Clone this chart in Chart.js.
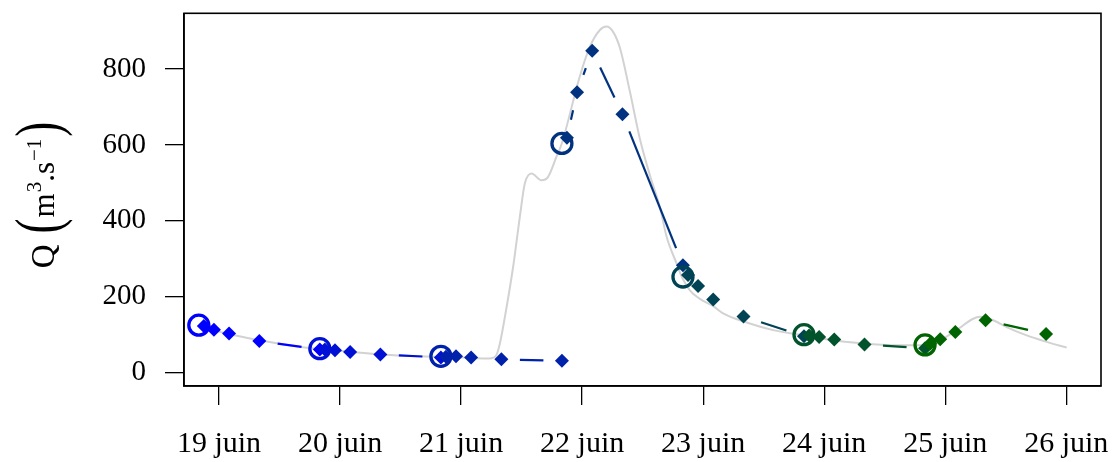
<!DOCTYPE html>
<html>
<head>
<meta charset="utf-8">
<script src="https://cdn.jsdelivr.net/npm/chart.js@4.4.1/dist/chart.umd.min.js"></script>
<style>
  html, body { margin: 0; padding: 0; background: #fff; }
  #wrap { width: 1117px; height: 462px; }
</style>
</head>
<body>
<div id="wrap"><canvas id="debitChart" width="1117" height="462"></canvas></div>
<script>
// débit observé (jour de juin, m3/s)
const obsT = [18.833, 18.95, 19.083, 19.336, 19.58, 19.818, 20.08, 20.328, 20.58, 20.838,
    21.08, 21.21, 21.25, 21.29, 21.32, 21.362, 21.43, 21.485, 21.526, 21.582, 21.664,
    21.719, 21.788, 21.832, 21.98, 22.064, 22.147, 22.202, 22.256, 22.312, 22.395,
    22.478, 22.56, 22.643, 22.698, 22.78, 22.824, 22.89, 22.97, 23.083, 23.165, 23.359,
    23.578, 23.826, 24.074, 24.185, 24.35, 24.516, 24.736, 24.832, 24.956, 25.094,
    25.231, 25.287, 25.397, 25.507, 25.673, 25.838, 26.003];
const obsQ = [123, 112, 102, 85, 72, 62, 55, 48, 44, 41,
    39, 37, 38, 45, 76, 147, 279, 410, 498, 525, 507,
    516, 569, 604, 780, 859, 903, 912, 898, 856, 740,
    615, 520, 435, 358, 288, 252, 217, 195, 175, 156, 132,
    112, 98, 85, 81, 76, 73, 72, 73, 85, 112,
    142, 147, 138, 120, 98, 81, 66];

// prévisions émises chaque jour à 20h
const issueDays = [18.833, 19.833, 20.833, 21.833, 22.833, 23.833, 24.833];
const leadHours = [0, 1, 3, 6, 12, 24];
const prev1 = [125, 123, 113, 103, 83, 61];
const prev2 = [63, 61, 59, 54, 48, 40];
const prev3 = [43, 42, 43, 40, 35, 31];
const prev4 = [604, 619, 739, 848, 681, 283];
const prev5 = [252, 257, 228, 193, 148, 96];
const prev6 = [100, 98, 94, 87, 74, 64];
const prev7 = [73, 76, 88, 107, 138, 102];
const prevColors = ["rgb(0,0,255)", "rgb(0,17,213)", "rgb(0,33,170)", "rgb(0,50,128)",
    "rgb(0,67,85)", "rgb(0,83,43)", "rgb(0,100,0)"];

const tickDays = [19, 20, 21, 22, 23, 24, 25, 26];
const tickNames = ["19 juin", "20 juin", "21 juin", "22 juin", "23 juin", "24 juin", "25 juin", "26 juin"];
const yTicks = [0, 200, 400, 600, 800];

const SERIF = "'Liberation Serif', 'Times New Roman', serif";
const GAP = 18.5; // blanc autour des points (type="b")

// segments interrompus autour des points
function segDash(ctx) {
    const L = Math.hypot(ctx.p1.x - ctx.p0.x, ctx.p1.y - ctx.p0.y);
    const d = Math.max(L - 2 * GAP, 0);
    return [d, 2 * GAP + 1000];
}
function segOffset(ctx) {
    const L = Math.hypot(ctx.p1.x - ctx.p0.x, ctx.p1.y - ctx.p0.y);
    const d = Math.max(L - 2 * GAP, 0);
    return d + 2 * GAP + 1000 - GAP;
}

const allPrev = [prev1, prev2, prev3, prev4, prev5, prev6, prev7];

const datasets = [{
    label: "observé",
    data: obsT.map((t, i) => ({x: t, y: obsQ[i]})),
    borderColor: "rgb(210,210,210)",
    borderWidth: 2,
    pointRadius: 0,
    cubicInterpolationMode: "monotone",
    order: 100
}];

allPrev.forEach((vals, k) => {
    datasets.push({
        label: "prévision " + (k + 1),
        data: vals.map((q, i) => ({x: issueDays[k] + leadHours[i] / 24, y: q})),
        borderColor: prevColors[k],
        borderWidth: 2.2,
        order: -k,
        pointStyle: c => c.dataIndex === 0 ? "circle" : "rectRot",
        pointRadius: c => c.dataIndex === 0 ? 10 : 7,
        pointBorderWidth: c => c.dataIndex === 0 ? 3.3 : 0,
        pointBorderColor: prevColors[k],
        pointBackgroundColor: c => c.dataIndex === 0 ? "rgba(0,0,0,0)" : prevColors[k],
        segment: {
            borderDash: segDash,
            borderDashOffset: segOffset
        }
    });
});

// cadre autour de la zone de tracé
const frame = {
    id: "frame",
    afterDraw(chart) {
        const {ctx, chartArea: a} = chart;
        ctx.save();
        ctx.strokeStyle = "#000";
        ctx.lineWidth = 1.6;
        ctx.strokeRect(a.left, a.top, a.right - a.left, a.bottom - a.top);
        ctx.restore();
    }
};

// titre de l'axe y : Q (m3.s-1) avec grandes parenthèses
const yTitle = {
    id: "yTitle",
    afterDraw(chart) {
        const ctx = chart.ctx;
        const parts = [
            {t: "Q", size: 33, dy: 0, after: 11, sx: 1},
            {t: "(", size: 64, dy: 5, after: 1, sx: 0.7},
            {t: "m", size: 31, dy: 0, after: 1, sx: 1},
            {t: "3", size: 21, dy: -13, after: 0, sx: 1},
            {t: ".s", size: 31, dy: 0, after: 1, sx: 1},
            {t: "\u22121", size: 21, dy: -13, after: 2, sx: 1},
            {t: ")", size: 64, dy: 5, after: 0, sx: 0.7}
        ];
        ctx.save();
        let total = 0;
        parts.forEach(p => {
            ctx.font = p.size + "px " + SERIF;
            p.w = ctx.measureText(p.t).width * p.sx;
            total += p.w + p.after;
        });
        ctx.translate(54, 195);
        ctx.rotate(-Math.PI / 2);
        ctx.fillStyle = "#000";
        ctx.textBaseline = "alphabetic";
        let x = -total / 2;
        parts.forEach(p => {
            ctx.font = p.size + "px " + SERIF;
            ctx.save();
            ctx.translate(x, p.dy);
            ctx.scale(p.sx, 1);
            ctx.fillText(p.t, 0, 0);
            ctx.restore();
            x += p.w + p.after;
        });
        ctx.restore();
    }
};

Chart.defaults.color = "#000";
Chart.defaults.font.family = SERIF;

new Chart(document.getElementById("debitChart"), {
    type: "line",
    data: {datasets},
    options: {
        responsive: false,
        animation: false,
        layout: {padding: {top: 13, right: 16, left: 0, bottom: 0}},
        plugins: {legend: {display: false}, tooltip: {enabled: false}},
        scales: {
            x: {
                type: "linear",
                min: 18.7107,
                max: 26.2868,
                afterBuildTicks: axis => { axis.ticks = tickDays.map(v => ({value: v})); },
                afterFit: axis => {
                    axis.height = 76;
                    axis.paddingLeft = 0;
                    axis.paddingRight = 0;
                },
                grid: {drawOnChartArea: false, color: "#000", lineWidth: 1.3, tickLength: 19},
                border: {display: true, color: "#000", width: 1.6},
                ticks: {
                    autoSkip: false,
                    maxRotation: 0,
                    padding: 21,
                    font: {size: 30, family: SERIF},
                    callback: (v, i) => tickNames[i]
                }
            },
            y: {
                type: "linear",
                min: -35.3,
                max: 947,
                afterBuildTicks: axis => { axis.ticks = yTicks.map(v => ({value: v})); },
                afterFit: axis => {
                    axis.width = 184;
                    axis.paddingTop = 0;
                    axis.paddingBottom = 0;
                },
                grid: {drawOnChartArea: false, color: "#000", lineWidth: 1.3, tickLength: 19},
                border: {display: true, color: "#000", width: 1.6},
                ticks: {
                    padding: 19,
                    font: {size: 29, family: SERIF}
                }
            }
        }
    },
    plugins: [frame, yTitle]
});
</script>
</body>
</html>
